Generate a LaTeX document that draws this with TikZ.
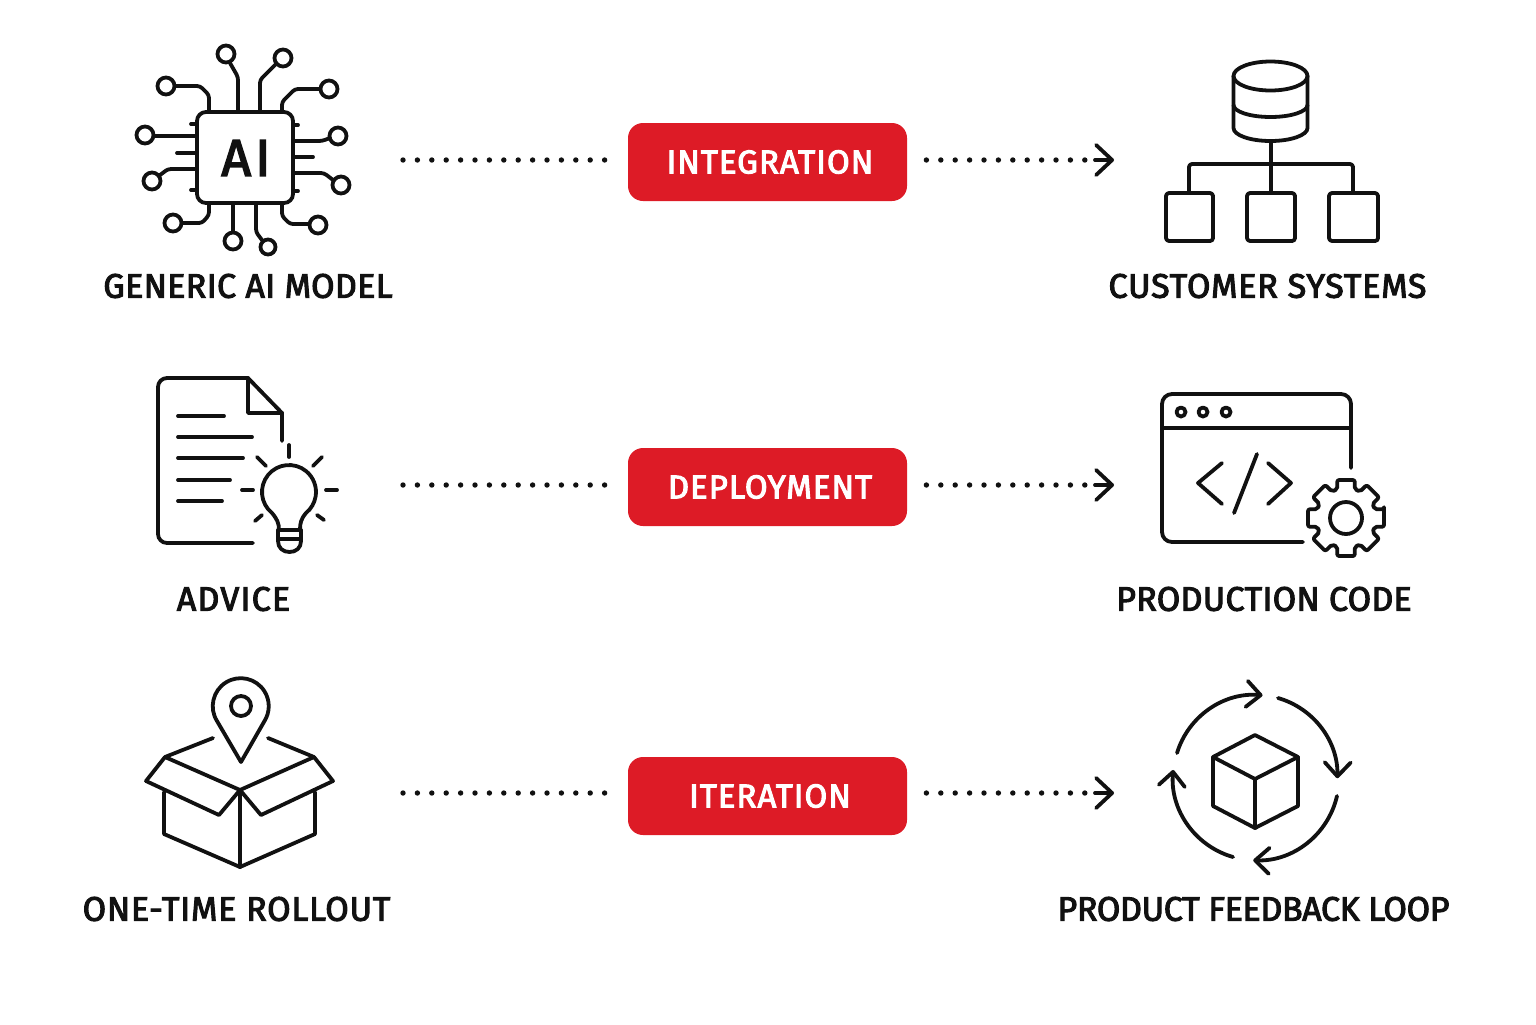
\documentclass[tikz,border=0pt]{standalone}
\usepackage{fontspec}
\setmainfont{Fira Sans}[FakeBold=3]
\newcommand{\pilltext}[1]{\hspace{2.5pt}\raisebox{-0.8pt}{#1}}
\usetikzlibrary{arrows.meta}
\definecolor{pillred}{HTML}{DD1B26}
\definecolor{inkline}{HTML}{111111}
\tikzset{
  iconline/.style={draw=inkline,line width=1.9pt,line cap=round,line join=round},
  pinline/.style={iconline,rounded corners=1.5pt},
  barbtip/.style={iconline,-{Straight Barb[length=7pt,width=13pt,round]}},
  flowdots/.style={draw=inkline,line width=2.7pt,line cap=round,dash pattern=on 0pt off 7.2pt},
  flowtip/.style={draw=inkline,line width=1.9pt,line cap=round,-{Straight Barb[length=8pt,width=15pt,round]}},
  pillbox/.style={fill=pillred,text=white,rounded corners=7.5pt,minimum width=139.5pt,minimum height=39pt,inner sep=0pt,font=\fontsize{16.5}{18}\selectfont\addfontfeature{LetterSpace=3}},
  caption/.style={text=inkline,inner sep=0pt,font=\fontsize{17}{20}\selectfont\addfontfeature{LetterSpace=#1}}
}
\begin{document}
\begin{tikzpicture}[x=0.5pt,y=-0.5pt]
  \useasboundingbox (0,0) rectangle (1536,1024);

  % Generic AI model
  \draw[iconline,rounded corners=4.5pt] (197,112) rectangle (293,203);
  \node[text=inkline,inner sep=0pt,font=\fontsize{26}{28}\selectfont\addfontfeature{LetterSpace=8}] (chip) at (246,158) {AI};
  \draw[iconline] (166,86) circle[radius=8.5];
  \draw[iconline] (226,54) circle[radius=8.5];
  \draw[iconline] (283,58) circle[radius=8.5];
  \draw[iconline] (329,89) circle[radius=8.5];
  \draw[iconline] (338,136) circle[radius=8.5];
  \draw[iconline] (341,185) circle[radius=8.5];
  \draw[iconline] (318,225) circle[radius=8.5];
  \draw[iconline] (268,247) circle[radius=7.5];
  \draw[iconline] (233,241) circle[radius=8.5];
  \draw[iconline] (173,223) circle[radius=8.5];
  \draw[iconline] (152,181) circle[radius=8.5];
  \draw[iconline] (145,135) circle[radius=8.5];
  \draw[pinline] (175,86) -- (200,86) -- (209,95) -- (209,112);
  \draw[pinline] (230,63) -- (238,77) -- (238,112);
  \draw[pinline] (276,64) -- (260,80) -- (260,112);
  \draw[pinline] (320,89) -- (295,89) -- (282,102) -- (282,112);
  \draw[pinline] (330,138) -- (322,141) -- (295,141);
  \draw[iconline] (295,157) -- (313,157);
  \draw[pinline] (333,180) -- (324,173) -- (295,173);
  \draw[iconline] (293,125) -- (298,125);
  \draw[iconline] (293,191) -- (298,191);
  \draw[pinline] (309,224) -- (290,224) -- (282,216) -- (282,203);
  \draw[pinline] (262,240) -- (256,232) -- (256,203);
  \draw[iconline] (233,232) -- (233,203);
  \draw[pinline] (182,223) -- (202,223) -- (209,215) -- (209,203);
  \draw[iconline] (155,136) -- (197,136);
  \draw[iconline] (177,153) -- (197,153);
  \draw[pinline] (160,175) -- (168,169) -- (197,169);
  \draw[iconline] (191,124) -- (197,124);
  \draw[iconline] (191,190) -- (197,190);
  \node[caption=1] (modeltext) at (248,286) {GENERIC AI MODEL};

  % Customer systems
  \draw[iconline] (1233.5,76) -- (1233.5,128) arc[start angle=180,end angle=0,x radius=37,y radius=13] -- (1307.5,76);
  \draw[iconline] (1270.5,76) ellipse[x radius=37,y radius=14.5];
  \draw[iconline] (1233.5,105) arc[start angle=180,end angle=0,x radius=37,y radius=12];
  \draw[iconline] (1271,141) -- (1271,193);
  \draw[pinline] (1189,193) -- (1189,164) -- (1353,164) -- (1353,193);
  \draw[iconline,rounded corners=1.5pt] (1166,193) rectangle (1213,241);
  \draw[iconline,rounded corners=1.5pt] (1247,193) rectangle (1295,241);
  \draw[iconline,rounded corners=1.5pt] (1329,193) rectangle (1378,241);
  \node[caption=2.4] (custtext) at (1267.5,286) {CUSTOMER SYSTEMS};

  % Advice
  \draw[iconline,rounded corners=4.5pt] (253,543) -- (158,543) -- (158,378) -- (248,378);
  \draw[iconline] (248,378) -- (282,413) -- (282,441);
  \draw[iconline] (248,378) -- (248,413) -- (282,413);
  \draw[iconline] (178,416) -- (224,416);
  \draw[iconline] (178,437) -- (252,437);
  \draw[iconline] (178,458) -- (243,458);
  \draw[iconline] (178,480) -- (230,480);
  \draw[iconline] (178,501) -- (222,501);
  \draw[iconline] (279,530) .. controls (279,523) and (277,519) .. (272,513) arc[start angle=129,end angle=411,radius=27] .. controls (301,519) and (300,523) .. (300,530);
  \draw[iconline] (278,530) -- (301,530);
  \draw[iconline] (278,539) -- (301,539);
  \draw[iconline] (278,530) -- (278,541) .. controls (278,548) and (283,552) .. (289.5,552) .. controls (296,552) and (301,548) .. (301,541) -- (301,530);
  \draw[iconline] (289,445) -- (289,457);
  \draw[iconline] (257,457) -- (266,466);
  \draw[iconline] (322,457) -- (313,466);
  \draw[iconline] (242,490) -- (253,490);
  \draw[iconline] (326,490) -- (337,490);
  \draw[iconline] (255,521) -- (262,515);
  \draw[iconline] (317,515) -- (324,520);
  \node[caption=3.5] (advicetext) at (233.5,599) {ADVICE};

  % Production code
  \draw[iconline,rounded corners=5pt] (1303,542) -- (1162,542) -- (1162,394) -- (1351,394) -- (1351,468);
  \draw[iconline] (1162,428) -- (1351,428);
  \draw[iconline] (1181,412) circle[radius=4.5];
  \draw[iconline] (1203,412) circle[radius=4.5];
  \draw[iconline] (1226,412) circle[radius=4.5];
  \draw[iconline] (1222,463) -- (1198,483) -- (1222,504);
  \draw[iconline] (1257,454) -- (1234,513);
  \draw[iconline] (1268,463) -- (1291,483) -- (1268,504);
  \draw[iconline,rounded corners=1pt,shift={(1346,518)}] (-13:39)
    \foreach \a in {0,45,...,315} { -- (\a-13:39) -- (\a+13:39) -- (\a+17:30) -- (\a+28:30) } -- cycle;
  \draw[iconline] (1346,518) circle[radius=16];
  \node[caption=0.8] (codetext) at (1264,599) {PRODUCTION CODE};

  % One-time rollout
  \draw[iconline] (241,762) -- (217,721) arc[start angle=148,end angle=392,radius=28] -- cycle;
  \draw[iconline] (241,706) circle[radius=10];
  \draw[iconline] (213,738) -- (165,757) -- (240,790) -- (314,757) -- (268,738);
  \draw[iconline] (165,757) -- (146,781) -- (219,815) -- (240,790);
  \draw[iconline] (314,757) -- (333,781) -- (261,815) -- (240,790);
  \draw[iconline] (164,792) -- (164,834) -- (240,867) -- (315,834) -- (315,792);
  \draw[iconline] (240,790) -- (240,867);
  \node[caption=2.2] (rollouttext) at (236.5,909) {ONE-TIME ROLLOUT};

  % Product feedback loop
  \draw[iconline] (1255,735) -- (1298,757) -- (1298,806) -- (1255,828) -- (1213,806) -- (1213,757) -- cycle;
  \draw[iconline] (1213,757) -- (1255,779) -- (1298,757);
  \draw[iconline] (1255,779) -- (1255,828);
  \draw[barbtip] (1177,753) arc[start angle=197,end angle=275,radius=82];
  \draw[barbtip] (1278,698) arc[start angle=286,end angle=361,radius=82];
  \draw[barbtip] (1337,796) arc[start angle=13,end angle=92,radius=83];
  \draw[barbtip] (1233,857) arc[start angle=106,end angle=185,radius=83];
  \node[caption=-1] (looptext) at (1253.5,909) {PRODUCT FEEDBACK LOOP};

  % Steps
  \node[pillbox] (pillA) at (767.5,162) {\pilltext{INTEGRATION}};
  \node[pillbox] (pillB) at (767.5,487) {\pilltext{DEPLOYMENT}};
  \node[pillbox] (pillC) at (767.5,796) {\pilltext{ITERATION}};

  % Flows
  \coordinate (modelout) at (403,160);
  \coordinate (custstem) at (1095,160);
  \coordinate (custin) at (1114,160);
  \coordinate (adviceout) at (403,485);
  \coordinate (codestem) at (1095,485);
  \coordinate (codein) at (1114,485);
  \coordinate (rolloutout) at (403,793);
  \coordinate (loopstem) at (1095,793);
  \coordinate (loopin) at (1114,793);
  \draw[flowdots,shorten >=10pt] (modelout) -- (modelout -| pillA.west);
  \draw[flowdots,shorten <=9.5pt,shorten >=3.5pt] (pillA.east |- custstem) -- (custstem);
  \draw[flowtip] (custstem) -- (custin);
  \draw[flowdots,shorten >=10pt] (adviceout) -- (adviceout -| pillB.west);
  \draw[flowdots,shorten <=9.5pt,shorten >=3.5pt] (pillB.east |- codestem) -- (codestem);
  \draw[flowtip] (codestem) -- (codein);
  \draw[flowdots,shorten >=10pt] (rolloutout) -- (rolloutout -| pillC.west);
  \draw[flowdots,shorten <=9.5pt,shorten >=3.5pt] (pillC.east |- loopstem) -- (loopstem);
  \draw[flowtip] (loopstem) -- (loopin);
\end{tikzpicture}
\end{document}
